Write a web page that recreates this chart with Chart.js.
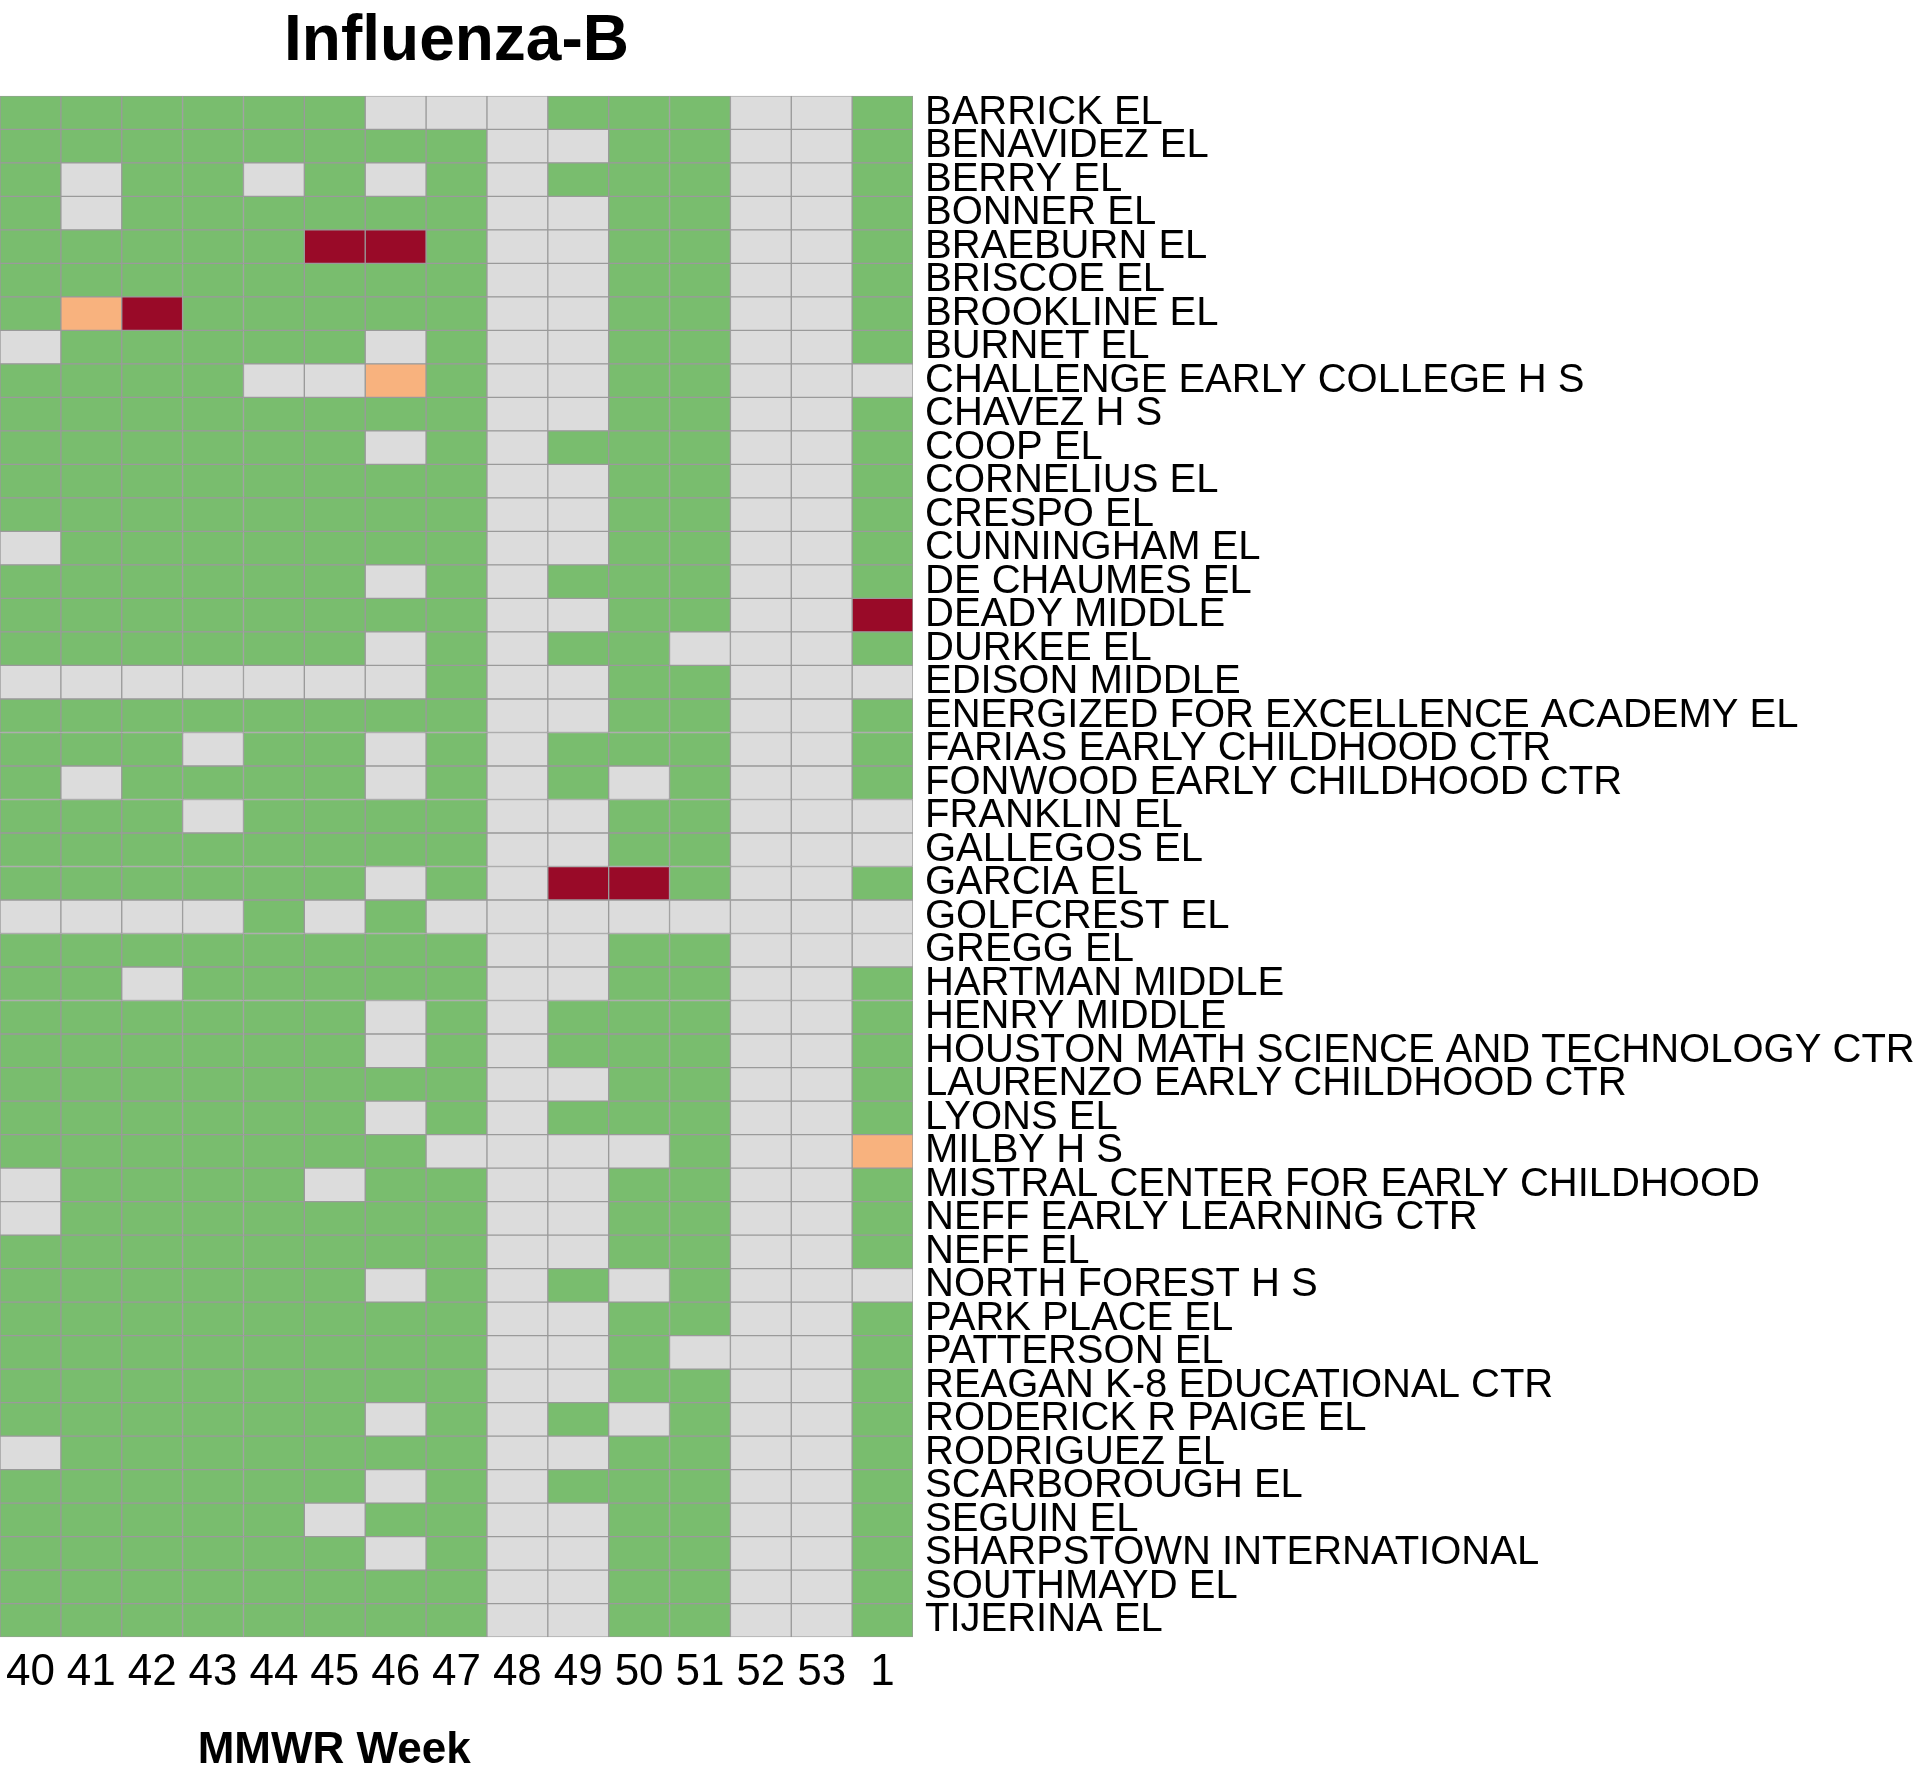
<!DOCTYPE html>
<html>
<head>
<meta charset="utf-8">
<script src="https://cdn.jsdelivr.net/npm/chart.js@4"></script>
<style>
  body { margin: 0; background: #fff; }
  canvas { display: block; }
</style>
</head>
<body>
<canvas id="chart" width="1921" height="1780"></canvas>
<script>
// MMWR weeks (columns)
const weeks = ["40", "41", "42", "43", "44", "45", "46", "47", "48", "49", "50", "51", "52", "53", "1"];

// schools (rows, top to bottom)
const schools = [
  "BARRICK EL", "BENAVIDEZ EL", "BERRY EL", "BONNER EL", "BRAEBURN EL", "BRISCOE EL",
  "BROOKLINE EL", "BURNET EL", "CHALLENGE EARLY COLLEGE H S", "CHAVEZ H S", "COOP EL",
  "CORNELIUS EL", "CRESPO EL", "CUNNINGHAM EL", "DE CHAUMES EL", "DEADY MIDDLE",
  "DURKEE EL", "EDISON MIDDLE", "ENERGIZED FOR EXCELLENCE ACADEMY EL",
  "FARIAS EARLY CHILDHOOD CTR", "FONWOOD EARLY CHILDHOOD CTR", "FRANKLIN EL",
  "GALLEGOS EL", "GARCIA EL", "GOLFCREST EL", "GREGG EL", "HARTMAN MIDDLE",
  "HENRY MIDDLE", "HOUSTON MATH SCIENCE AND TECHNOLOGY CTR", "LAURENZO EARLY CHILDHOOD CTR",
  "LYONS EL", "MILBY H S", "MISTRAL CENTER FOR EARLY CHILDHOOD", "NEFF EARLY LEARNING CTR",
  "NEFF EL", "NORTH FOREST H S", "PARK PLACE EL", "PATTERSON EL", "REAGAN K-8 EDUCATIONAL CTR",
  "RODERICK R PAIGE EL", "RODRIGUEZ EL", "SCARBOROUGH EL", "SEGUIN EL",
  "SHARPSTOWN INTERNATIONAL", "SOUTHMAYD EL", "TIJERINA EL"
];

// one char per week: x = no report, 0 = none, 1 = low, 2 = high
const status = [
  "000000xxx000xx0", "00000000xx00xx0", "0x00x0x0x000xx0", "0x000000xx00xx0",
  "00000220xx00xx0", "00000000xx00xx0", "01200000xx00xx0", "x00000x0xx00xx0",
  "0000xx10xx00xxx", "00000000xx00xx0", "000000x0x000xx0", "00000000xx00xx0",
  "00000000xx00xx0", "x0000000xx00xx0", "000000x0x000xx0", "00000000xx00xx2",
  "000000x0x00xxx0", "xxxxxxx0xx00xxx", "00000000xx00xx0", "000x00x0x000xx0",
  "0x0000x0x0x0xx0", "000x0000xx00xxx", "00000000xx00xxx", "000000x0x220xx0",
  "xxxx0x0xxxxxxxx", "00000000xx00xxx", "00x00000xx00xx0", "000000x0x000xx0",
  "000000x0x000xx0", "00000000xx00xx0", "000000x0x000xx0", "0000000xxxx0xx1",
  "x0000x00xx00xx0", "x0000000xx00xx0", "00000000xx00xx0", "000000x0x0x0xxx",
  "00000000xx00xx0", "00000000xx0xxx0", "00000000xx00xx0", "000000x0x0x0xx0",
  "x0000000xx00xx0", "000000x0x000xx0", "00000x00xx00xx0", "000000x0xx00xx0",
  "00000000xx00xx0", "00000000xx00xx0"
];

const colors = { x: "#dcdcdc", "0": "#79bd6e", "1": "#f8b27e", "2": "#990a28" };
const FONT = "'Liberation Sans', Arial, sans-serif";

// each week is one stacked segment per school
const datasets = weeks.map((w, i) => ({
  label: w,
  data: schools.map(() => 1),
  backgroundColor: status.map(r => colors[r[i]]),
  borderColor: "#9a9a9a",
  borderWidth: 1,
  borderSkipped: false,
  categoryPercentage: 1,
  barPercentage: 1
}));

// x axis title sits left of centre in the original
const axisTitle = {
  id: "axisTitle",
  afterDraw(chart) {
    const { ctx, chartArea } = chart;
    ctx.save();
    ctx.font = "bold 44px " + FONT;
    ctx.fillStyle = "#000";
    ctx.textAlign = "center";
    ctx.textBaseline = "middle";
    ctx.fillText("MMWR Week", chartArea.left + chartArea.width * 0.366, chartArea.bottom + 114);
    ctx.restore();
  }
};

new Chart(document.getElementById("chart"), {
  type: "bar",
  data: { labels: schools, datasets },
  options: {
    indexAxis: "y",
    responsive: false,
    animation: false,
    devicePixelRatio: 1,
    layout: { padding: { bottom: 72 } },
    plugins: {
      legend: { display: false },
      tooltip: { enabled: false },
      title: {
        display: true,
        text: "Influenza-B",
        fullSize: false,
        color: "#000",
        font: { family: FONT, size: 64, weight: "bold" },
        padding: { top: 4, bottom: 15 }
      }
    },
    scales: {
      x: {
        type: "linear",
        stacked: true,
        min: 0,
        max: weeks.length,
        grid: { display: false, drawTicks: false },
        border: { display: false },
        afterBuildTicks: s => { s.ticks = weeks.map((w, i) => ({ value: i + 0.5 })); },
        afterFit: s => { s.paddingLeft = 0; s.paddingRight = 0; },
        ticks: {
          autoSkip: false,
          maxRotation: 0,
          padding: 9,
          color: "#000",
          font: { family: FONT, size: 44 },
          callback: (v, i) => weeks[i]
        }
      },
      y: {
        stacked: true,
        position: "right",
        grid: { display: false, drawTicks: false },
        border: { display: false },
        afterFit: s => { s.width = 1008; },
        ticks: {
          autoSkip: false,
          padding: 12,
          color: "#000",
          font: { family: FONT, size: 40 }
        }
      }
    }
  },
  plugins: [axisTitle]
});
</script>
</body>
</html>
